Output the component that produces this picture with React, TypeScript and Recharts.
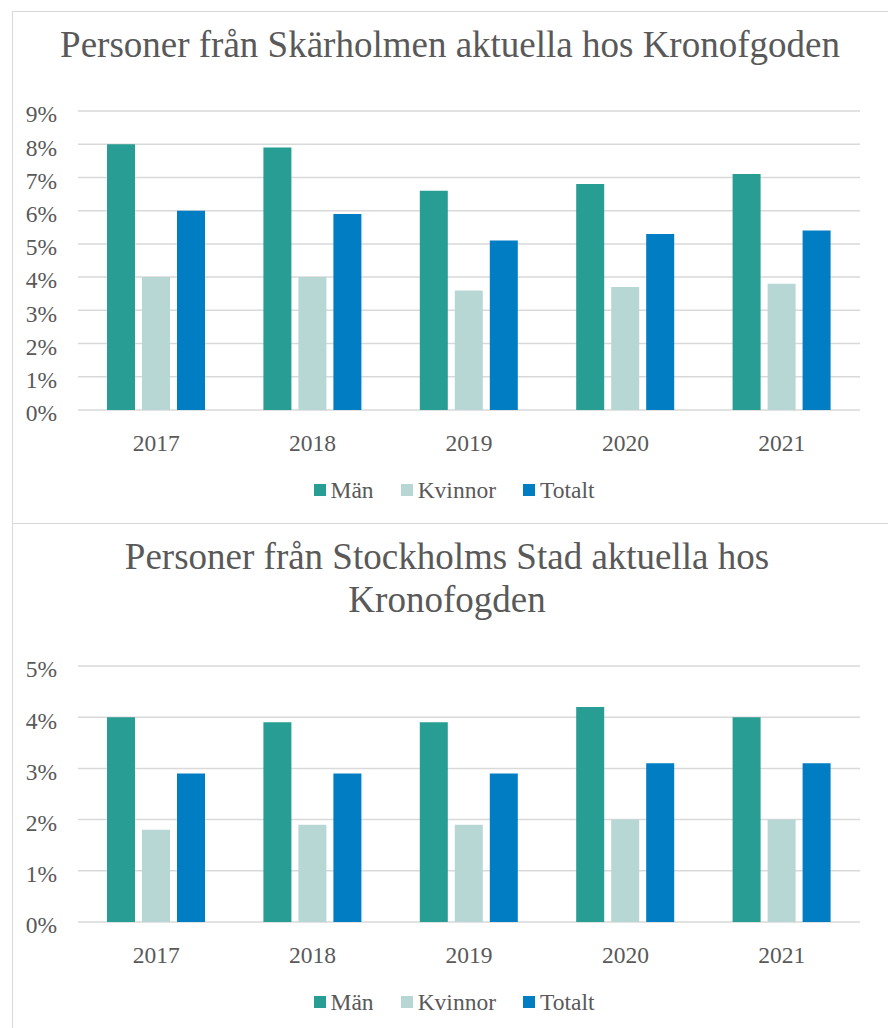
import React from 'react';
import { BarChart, Bar, XAxis, YAxis, CartesianGrid, Legend } from 'recharts';

const years = ['2017', '2018', '2019', '2020', '2021'];
const seriesNames = ['Män', 'Kvinnor', 'Totalt'];

// Skärholmen (%)
const skMan = [8.0, 7.9, 6.6, 6.8, 7.1];
const skKvinnor = [4.0, 4.0, 3.6, 3.7, 3.8];
const skTotalt = [6.0, 5.9, 5.1, 5.3, 5.4];
const skTicks = [0, 1, 2, 3, 4, 5, 6, 7, 8, 9];

// Stockholms Stad (%)
const stMan = [4.0, 3.9, 3.9, 4.2, 4.0];
const stKvinnor = [1.8, 1.9, 1.9, 2.0, 2.0];
const stTotalt = [2.9, 2.9, 2.9, 3.1, 3.1];
const stTicks = [0, 1, 2, 3, 4, 5];

const FONT = '"Liberation Serif", "Times New Roman", serif';
const TEXT = '#595959';
const GRID = '#D9D9D9';
const COLORS = ['#279D93', '#B7D7D5', '#007DC3'];

const toRows = (m: number[], k: number[], t: number[]) =>
  years.map((y, i) => ({ year: y, Män: m[i], Kvinnor: k[i], Totalt: t[i] }));

// keep legend in series order (recharts sorts by name otherwise)
const renderLegend = (props: any) => {
  const items = [...(props.payload || [])].sort(
    (a: any, b: any) => seriesNames.indexOf(a.value) - seriesNames.indexOf(b.value)
  );
  return (
    <div
      style={{
        display: 'flex',
        justifyContent: 'center',
        alignItems: 'center',
        height: 24,
        fontFamily: FONT,
        fontSize: 23.5,
        color: TEXT,
      }}
    >
      {items.map((e: any, i: number) => (
        <span key={e.value} style={{ display: 'flex', alignItems: 'center', marginLeft: i ? 27 : 0 }}>
          <span style={{ width: 12, height: 12, background: e.color, marginRight: 5 }} />
          {e.value}
        </span>
      ))}
    </div>
  );
};

function Panel({ data, ticks, height, marginTop, marginBottom }: any) {
  return (
    <BarChart
      width={888}
      height={height}
      data={data}
      margin={{ top: marginTop, right: 28, left: 0, bottom: marginBottom }}
      barSize={28}
      barGap={7}
    >
      <CartesianGrid vertical={false} stroke={GRID} strokeWidth={1.5} />
      <XAxis
        dataKey="year"
        height={68}
        axisLine={false}
        tickLine={false}
        tickMargin={18}
        tick={{ fill: TEXT, fontSize: 23.5, fontFamily: FONT }}
      />
      <YAxis
        width={78}
        domain={[0, ticks[ticks.length - 1]]}
        ticks={ticks}
        interval={0}
        axisLine={false}
        tickLine={false}
        tickMargin={15}
        tickFormatter={(v: number) => `${v}%`}
        tick={{ fill: TEXT, fontSize: 23.5, fontFamily: FONT, dy: 3 }}
      />
      <Legend
        verticalAlign="bottom"
        content={renderLegend}
        wrapperStyle={{ left: 20, width: 868, height: 24 }}
      />
      {seriesNames.map((name, i) => (
        <Bar key={name} dataKey={name} fill={COLORS[i]} isAnimationActive={false} />
      ))}
    </BarChart>
  );
}

const titleStyle: React.CSSProperties = {
  position: 'absolute',
  left: 0,
  width: 900,
  textAlign: 'center',
  fontFamily: FONT,
  fontSize: 37,
  lineHeight: '43px',
  color: TEXT,
};

export default function App() {
  return (
    <div style={{ position: 'absolute', left: 0, top: 0, width: 888, height: 1028, overflow: 'hidden', background: '#fff' }}>
      <div style={{ position: 'absolute', left: 12, top: 11, width: 900, height: 511, border: `1.5px solid ${GRID}` }} />
      <div style={{ position: 'absolute', left: 12, top: 523, width: 900, height: 600, border: `1.5px solid ${GRID}` }} />

      <div style={{ ...titleStyle, top: 23 }}>Personer från Skärholmen aktuella hos Kronofgoden</div>
      <div style={{ position: 'absolute', left: 0, top: 0 }}>
        <Panel data={toRows(skMan, skKvinnor, skTotalt)} ticks={skTicks} height={511} marginTop={111} marginBottom={9} />
      </div>

      <div style={{ ...titleStyle, top: 535, left: -3 }}>
        Personer från Stockholms Stad aktuella hos
        <br />
        Kronofogden
      </div>
      <div style={{ position: 'absolute', left: 0, top: 523 }}>
        <Panel data={toRows(stMan, stKvinnor, stTotalt)} ticks={stTicks} height={505} marginTop={143} marginBottom={14} />
      </div>
    </div>
  );
}
